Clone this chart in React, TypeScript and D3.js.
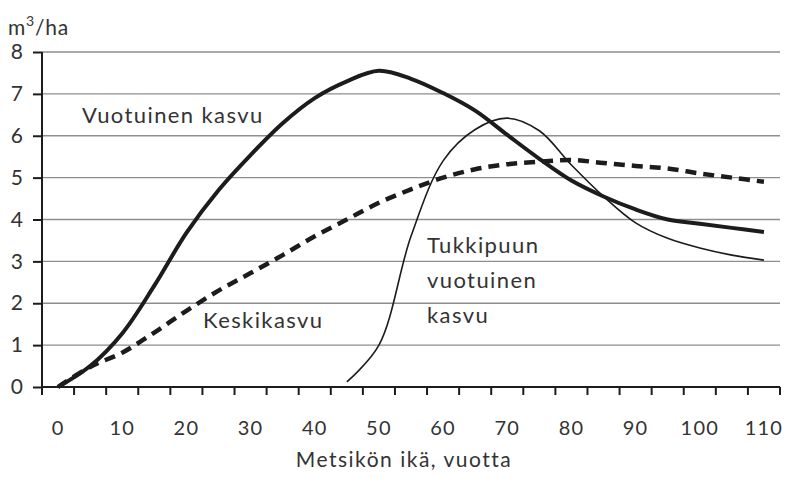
import * as d3 from 'd3';
import React, { useEffect, useRef } from 'react';

// ages (category axis, 5 year steps)
const ages = [0, 5, 10, 15, 20, 25, 30, 35, 40, 45, 50, 55, 60, 65, 70, 75, 80, 85, 90, 95, 100, 105, 110];
const vuotuinenKasvu = [0, 0.5, 1.28, 2.42, 3.68, 4.7, 5.54, 6.3, 6.9, 7.3, 7.55, 7.36, 7.02, 6.6, 6.02, 5.45, 4.93, 4.55, 4.24, 4.0, 3.9, 3.8, 3.7];
const keskikasvu = [0, 0.48, 0.82, 1.3, 1.82, 2.3, 2.72, 3.15, 3.6, 4.0, 4.4, 4.72, 5.0, 5.2, 5.32, 5.38, 5.42, 5.35, 5.28, 5.22, 5.1, 5.0, 4.9];
const tukkiAges = [45, 50, 55, 60, 65, 70, 75, 80, 85, 90, 95, 100, 105, 110];
const tukkiKasvu = [0.12, 1.0, 3.6, 5.4, 6.15, 6.42, 6.12, 5.3, 4.55, 3.92, 3.55, 3.32, 3.15, 3.03];
const yTicks = [0, 1, 2, 3, 4, 5, 6, 7, 8];
const xLabels = [0, 10, 20, 30, 40, 50, 60, 70, 80, 90, 100, 110];

const W = 788;
const H = 479;
const FONT = 'Lato, "Open Sans", sans-serif';
const INK = '#1c1c1c';
const TEXT = '#333';

const App = () => {
  const svgRef = useRef(null);

  useEffect(() => {
    const svg = d3.select(svgRef.current);
    svg.selectAll('*').remove();

    const x = d3.scaleBand().domain(ages.map(String)).range([42, 780]).padding(0);
    const cx = (a) => x(String(a)) + x.bandwidth() / 2;
    const y = d3.scaleLinear().domain([0, 8]).range([387, 52]);

    // gridlines
    svg
      .append('g')
      .selectAll('line')
      .data(yTicks.filter((t) => t > 0))
      .join('line')
      .attr('x1', 42)
      .attr('x2', 780)
      .attr('y1', (d) => y(d))
      .attr('y2', (d) => y(d))
      .attr('stroke', '#8e8e8e')
      .attr('stroke-width', 1.4);

    // y axis
    const yAxis = svg
      .append('g')
      .attr('transform', 'translate(42,0)')
      .call(d3.axisLeft(y).tickValues(yTicks).tickSize(9).tickPadding(10));
    yAxis.select('.domain').remove();
    yAxis.selectAll('line').attr('stroke', INK).attr('stroke-width', 2);
    yAxis.selectAll('text').attr('font-size', 21).attr('font-family', FONT).attr('fill', TEXT);

    // x axis ticks at band edges
    const edges = ages.map((a) => x(String(a))).concat([x.range()[1]]);
    svg
      .append('g')
      .selectAll('line')
      .data(edges)
      .join('line')
      .attr('x1', (d) => d)
      .attr('x2', (d) => d)
      .attr('y1', 387)
      .attr('y2', 395)
      .attr('stroke', INK)
      .attr('stroke-width', 2);

    const xAxis = svg
      .append('g')
      .attr('transform', 'translate(0,387)')
      .call(
        d3
          .axisBottom(x)
          .tickValues(xLabels.map(String))
          .tickSize(0)
          .tickPadding(34)
      );
    xAxis.select('.domain').remove();
    xAxis
      .selectAll('text')
      .attr('font-size', 20)
      .attr('font-family', FONT)
      .attr('fill', TEXT)
      .attr('letter-spacing', 1.2);

    // axis lines
    svg.append('line').attr('x1', 42).attr('x2', 42).attr('y1', 52).attr('y2', 388).attr('stroke', INK).attr('stroke-width', 2);
    svg.append('line').attr('x1', 41).attr('x2', 780).attr('y1', 387).attr('y2', 387).attr('stroke', INK).attr('stroke-width', 2);

    const line = d3
      .line()
      .x((d) => cx(d[0]))
      .y((d) => y(d[1]))
      .curve(d3.curveCatmullRom.alpha(0.5));

    svg
      .append('path')
      .datum(ages.map((a, i) => [a, keskikasvu[i]]))
      .attr('d', line)
      .attr('fill', 'none')
      .attr('stroke', INK)
      .attr('stroke-width', 4.5)
      .attr('stroke-dasharray', '11,7');

    svg
      .append('path')
      .datum(ages.map((a, i) => [a, vuotuinenKasvu[i]]))
      .attr('d', line)
      .attr('fill', 'none')
      .attr('stroke', INK)
      .attr('stroke-width', 4);

    svg
      .append('path')
      .datum(tukkiAges.map((a, i) => [a, tukkiKasvu[i]]))
      .attr('d', line)
      .attr('fill', 'none')
      .attr('stroke', INK)
      .attr('stroke-width', 1.6);

    // texts
    const txt = (s, tx, ty, size = 22, anchor = 'start', ls = 1.4) =>
      svg
        .append('text')
        .attr('x', tx)
        .attr('y', ty)
        .attr('font-size', size)
        .attr('font-family', FONT)
        .attr('fill', TEXT)
        .attr('text-anchor', anchor)
        .attr('letter-spacing', ls)
        .text(s);

    const unit = svg
      .append('text')
      .attr('x', 8)
      .attr('y', 35)
      .attr('font-size', 21)
      .attr('font-family', FONT)
      .attr('fill', TEXT)
      .attr('letter-spacing', 0.8);
    unit.append('tspan').text('m');
    unit.append('tspan').attr('font-size', 14).attr('dy', -9).text('3');
    unit.append('tspan').attr('dy', 9).text('/ha');

    txt('Vuotuinen kasvu', 82, 123);
    txt('Keskikasvu', 203, 328);
    txt('Tukkipuun', 427, 253);
    txt('vuotuinen', 427, 288);
    txt('kasvu', 427, 323);
    txt('Metsikön ikä, vuotta', 404, 467, 21, 'middle', 1.5);
  }, []);

  return (
    <svg
      ref={svgRef}
      width={W}
      height={H}
      style={{ position: 'absolute', left: 0, top: 0, background: '#fff' }}
    />
  );
};

export default App;
